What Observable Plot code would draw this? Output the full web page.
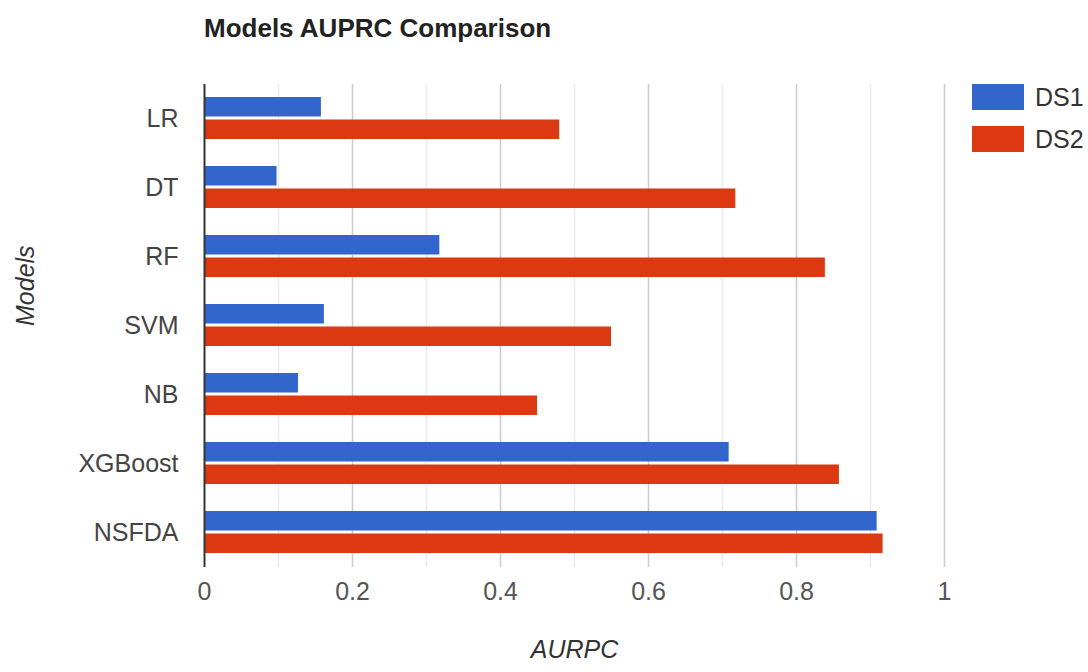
<!DOCTYPE html>
<html><head><meta charset="utf-8">
<script src="https://cdn.jsdelivr.net/npm/d3@7"></script>
<script src="https://cdn.jsdelivr.net/npm/@observablehq/plot@0.6"></script>
<style>
body{margin:0;background:#fff;font-family:"Liberation Sans",Arial,sans-serif;}
#wrap{position:relative;width:1088px;height:672px;overflow:hidden;}
#title{position:absolute;left:204px;top:15px;font-size:26px;font-weight:bold;line-height:26px;color:#222;white-space:nowrap;}
#chart{position:absolute;left:0;top:60px;}
#legend{position:absolute;left:972px;top:84px;}
.item{display:flex;align-items:center;height:26px;margin-bottom:16px;font-size:25px;color:#333;}
.sw{width:52px;height:26px;margin-right:11px;}
</style></head><body>
<div id="wrap"><div id="title">Models AUPRC Comparison</div><div id="chart"></div><div id="legend"></div></div>
<script>
const models = ["LR","DT","RF","SVM","NB","XGBoost","NSFDA"];
const ds1 = [0.158,0.098,0.318,0.162,0.127,0.709,0.909];
const ds2 = [0.48,0.718,0.839,0.55,0.45,0.858,0.917];
const seriesNames = ["DS1","DS2"];
const seriesColors = ["#3366cc","#dc3912"];
const xTicks = [0,0.2,0.4,0.6,0.8,1];
const minorTicks = [0.1,0.3,0.5,0.7,0.9];

const rows1 = models.map((m,i)=>({model:m, series:"DS1", value:ds1[i]}));
const rows2 = models.map((m,i)=>({model:m, series:"DS2", value:ds2[i]}));

const chart = Plot.plot({
  width:1088, height:612,
  marginTop:24, marginBottom:105, marginLeft:204, marginRight:144,
  style:{fontFamily:'"Liberation Sans",Arial,sans-serif', fontSize:"25px", color:"#444", background:"#fff"},
  x:{domain:[0,1]},
  y:{domain:models, paddingInner:0.39, paddingOuter:0.195},
  color:{domain:seriesNames, range:seriesColors},
  marks:[
    Plot.ruleX(minorTicks,{stroke:"#ebebeb", strokeWidth:1.5}),
    Plot.ruleX(xTicks.filter(d=>d>0),{stroke:"#cccccc", strokeWidth:1.5}),
    Plot.barX(rows1,{x:"value", y:"model", fill:"series", insetBottom:22.5}),
    Plot.barX(rows2,{x:"value", y:"model", fill:"series", insetTop:22.5}),
    Plot.ruleX([0],{stroke:"#333", strokeWidth:2}),
    Plot.axisX({ticks:xTicks, tickSize:0, tickPadding:15, tickFormat:d=>String(d), label:null, fontSize:25, fill:"#555"}),
    Plot.axisY({tickSize:0, tickPadding:26, label:null, fontSize:25, fill:"#444"}),
    Plot.text(["Models"],{frameAnchor:"left", dx:-179, rotate:-90, fontStyle:"italic", fontSize:25, fill:"#333"}),
    Plot.text(["AURPC"],{frameAnchor:"bottom", dy:90, fontStyle:"italic", fontSize:25, fill:"#333"})
  ]
});
document.getElementById("chart").appendChild(chart);

const color = chart.scale("color");
const legend = document.getElementById("legend");
color.domain.forEach((s,i)=>{
  const it = document.createElement("div"); it.className="item";
  const sw = document.createElement("div"); sw.className="sw"; sw.style.background = color.range[i];
  const tx = document.createElement("span"); tx.textContent = s;
  it.appendChild(sw); it.appendChild(tx); legend.appendChild(it);
});
</script></body></html>
